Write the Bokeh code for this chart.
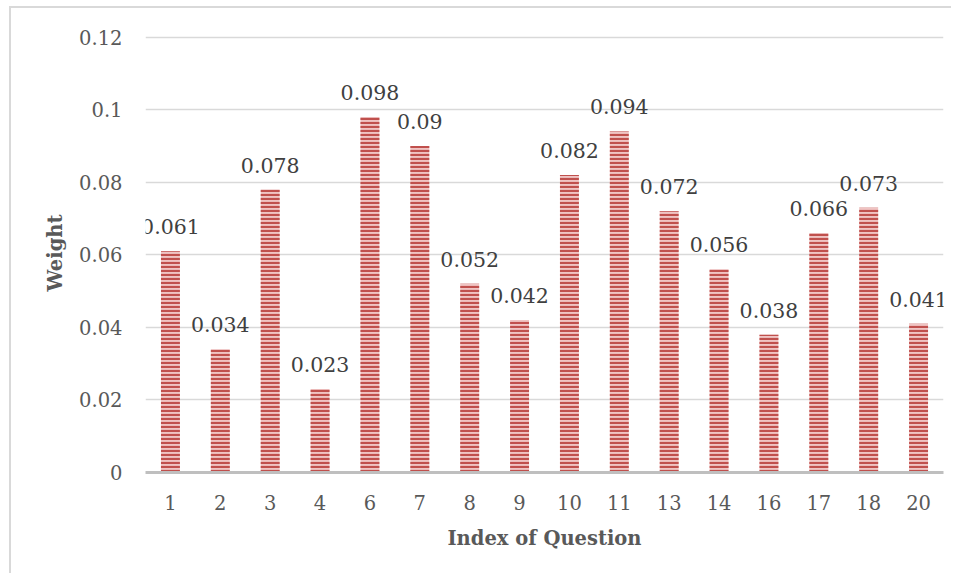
from bokeh.plotting import figure
from bokeh.models import ColumnDataSource, FactorRange, Range1d, FixedTicker, LabelSet
from bokeh.embed import file_html
from bokeh.resources import INLINE
from bokeh.core.properties import value

questions = ["1", "2", "3", "4", "6", "7", "8", "9", "10", "11", "13", "14", "16", "17", "18", "20"]
weights = [0.061, 0.034, 0.078, 0.023, 0.098, 0.09, 0.052, 0.042, 0.082, 0.094,
           0.072, 0.056, 0.038, 0.066, 0.073, 0.041]
weight_labels = [("%g" % w) for w in weights]
y_ticks = [0, 0.02, 0.04, 0.06, 0.08, 0.1, 0.12]
y_tick_labels = ["0", "0.02", "0.04", "0.06", "0.08", "0.1", "0.12"]

src = ColumnDataSource(dict(q=questions, w=weights, lab=weight_labels))

FONT = "DejaVu Serif"

p = figure(width=951, height=573, x_range=FactorRange(*questions, range_padding=0),
           y_range=Range1d(0, 0.121), output_backend="svg", toolbar_location=None,
           min_border_left=145, min_border_right=8, min_border_top=33, min_border_bottom=101)
p.border_fill_color = None
p.background_fill_color = "white"
p.styles = {"box-shadow": "inset 9px 6px 0 #ffffff, inset 11px 8px 0 #d9d9d9",
            "background-color": "white"}
p.outline_line_color = None

p.vbar(x="q", top="w", width=0.38, source=src, fill_color="#f0c4c3",
       hatch_pattern="horizontal_line", hatch_color="#c0504d", hatch_scale=4,
       hatch_weight=2.2, line_color=None)

labels = LabelSet(x="q", y="w", text="lab", source=src, text_align="center",
                  text_baseline="alphabetic", y_offset=17, text_font=value(FONT),
                  text_font_size=value("20.5px"), text_color="#404040",
                  level="overlay")
p.add_layout(labels)

p.yaxis.ticker = FixedTicker(ticks=y_ticks)
p.yaxis.major_label_overrides = {t: l for t, l in zip(y_ticks, y_tick_labels)}
p.yaxis.axis_line_color = None
p.yaxis.major_tick_line_color = None
p.yaxis.minor_tick_line_color = None
p.yaxis.major_label_text_font = FONT
p.yaxis.major_label_text_font_size = "19.5px"
p.yaxis.major_label_text_color = "#595959"
p.yaxis.major_label_standoff = 17
p.yaxis.axis_label = "Weight"
p.yaxis.axis_label_text_font = FONT
p.yaxis.axis_label_text_font_style = "bold"
p.yaxis.axis_label_text_font_size = "19.5px"
p.yaxis.axis_label_text_color = "#595959"
p.yaxis.axis_label_standoff = 9

p.xaxis.axis_line_color = "#bfbfbf"
p.xaxis.axis_line_width = 3
p.xaxis.major_tick_line_color = None
p.xaxis.minor_tick_line_color = None
p.xaxis.major_label_text_font = FONT
p.xaxis.major_label_text_font_size = "19.5px"
p.xaxis.major_label_text_color = "#595959"
p.xaxis.major_label_standoff = 16
p.xaxis.axis_label = "Index of Question"
p.xaxis.axis_label_text_font = FONT
p.xaxis.axis_label_text_font_style = "bold"
p.xaxis.axis_label_text_font_size = "19.5px"
p.xaxis.axis_label_text_color = "#595959"
p.xaxis.axis_label_standoff = 14

p.xgrid.grid_line_color = None
p.ygrid.grid_line_color = "#d9d9d9"
p.ygrid.grid_line_width = 1.5

open("out.html", "w").write(file_html(p, INLINE))
